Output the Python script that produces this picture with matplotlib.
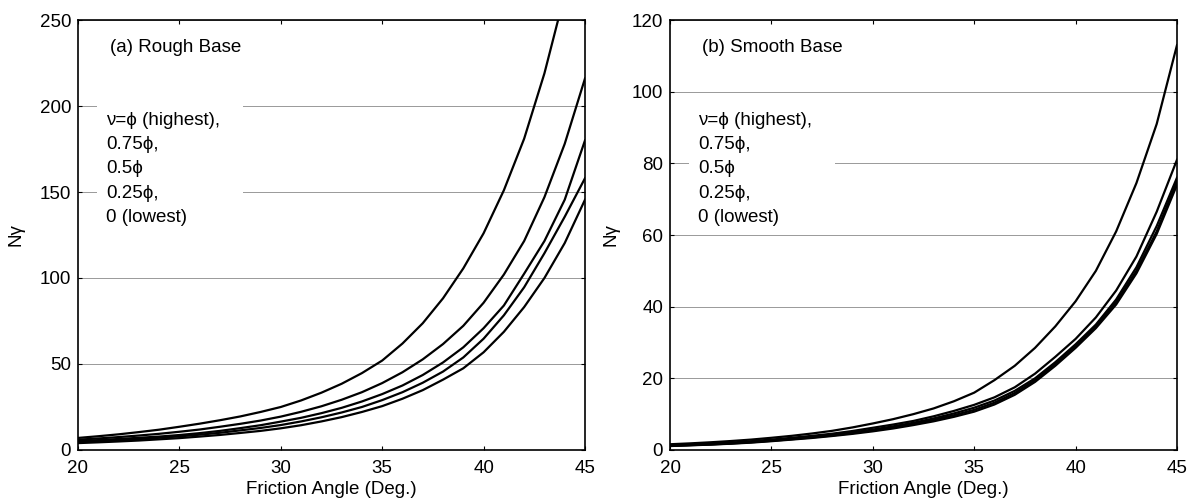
import numpy as np
import matplotlib
matplotlib.use("Agg")
import matplotlib.pyplot as plt
from matplotlib.patches import Rectangle

plt.rcParams['font.family'] = ['Liberation Sans', 'DejaVu Sans']
plt.rcParams['font.size'] = 13.5

# friction angle (deg.)
angles = list(range(20, 46))

# (a) rough base: nu = phi, 0.75phi, 0.5phi, 0.25phi, 0
rough_100 = [7.0, 8.0, 9.1, 10.4, 11.8, 13.5, 15.3, 17.3, 19.5, 22.1, 25.0, 28.8, 33.3,
             38.5, 44.7, 52.0, 61.9, 73.7, 88.2, 105.6, 126, 151, 181, 219, 265, 320]
rough_075 = [6.0, 6.7, 7.5, 8.4, 9.4, 10.6, 11.9, 13.5, 15.2, 17.1, 19.4, 22.2, 25.4,
             29.2, 33.6, 38.9, 45.2, 52.7, 61.6, 72.2, 85.6, 102, 121.5, 147, 178, 216]
rough_050 = [5.2, 5.75, 6.4, 7.1, 7.8, 8.7, 9.8, 11.1, 12.7, 14.4, 16.5, 18.7, 21.4,
             24.5, 28.2, 32.5, 37.5, 43.6, 50.9, 59.7, 70.8, 84, 102.5, 121.5, 145.5, 180]
rough_025 = [4.6, 5.1, 5.7, 6.35, 7.1, 7.9, 8.9, 10.0, 11.4, 12.8, 14.5, 16.6, 19.0,
             21.8, 25.0, 29.0, 33.6, 39.1, 45.6, 53.8, 64.7, 78.3, 94.6, 114.4, 135.6, 158]
rough_000 = [4.0, 4.45, 4.95, 5.5, 6.2, 6.9, 7.8, 8.75, 9.9, 11.1, 12.6, 14.4, 16.6,
             19.1, 22.1, 25.5, 29.8, 34.8, 40.9, 47.5, 56.8, 68.7, 83.1, 100, 120.3, 145.5]

# (b) smooth base
smooth_100 = [1.6, 1.85, 2.15, 2.5, 2.9, 3.4, 3.95, 4.6, 5.35, 6.3, 7.4, 8.6, 10.0,
              11.6, 13.6, 16.0, 19.5, 23.5, 28.5, 34.5, 41.5, 50.0, 61.0, 74.5, 91.0, 113]
smooth_075 = [1.3, 1.5, 1.75, 2.05, 2.45, 2.9, 3.4, 3.95, 4.55, 5.3, 6.2, 7.1, 8.1,
              9.4, 10.9, 12.6, 14.7, 17.5, 21.3, 26.0, 31.0, 37.0, 44.5, 54.0, 66.5, 81]
smooth_050 = [1.2, 1.4, 1.6, 1.9, 2.25, 2.65, 3.1, 3.6, 4.2, 4.9, 5.7, 6.6, 7.6,
              8.8, 10.2, 11.8, 13.8, 16.5, 20.0, 24.5, 29.5, 35.0, 42.0, 51.0, 62.5, 76]
smooth_025 = [1.15, 1.35, 1.55, 1.8, 2.15, 2.55, 3.0, 3.5, 4.05, 4.7, 5.45, 6.3, 7.25,
              8.4, 9.7, 11.2, 13.2, 15.9, 19.5, 24.0, 29.0, 34.5, 41.3, 50.0, 61.0, 75]
smooth_000 = [1.1, 1.3, 1.5, 1.75, 2.05, 2.45, 2.9, 3.35, 3.9, 4.5, 5.2, 6.0, 6.95,
              8.0, 9.25, 10.7, 12.7, 15.4, 19.0, 23.5, 28.5, 34.0, 40.6, 49.3, 60.3, 74]

legend_lines = ["ν=ϕ (highest),", "0.75ϕ,", "0.5ϕ", "0.25ϕ,", "0 (lowest)"]


def draw_panel(ax, curves, title, ymax, ystep, ylab_x):
    ax.set_axisbelow(True)
    ax.grid(True, axis="y", color="0.6", linewidth=0.7)
    # white patch behind the note text (hides the grid lines there)
    ax.add_patch(Rectangle((0.037, 0.516), 0.288, 0.30, transform=ax.transAxes,
                           facecolor="white", edgecolor="none", zorder=1))
    for c in curves:
        ax.plot(angles, c, color="black", linewidth=1.6, zorder=2)

    ax.set_xlim(20, 45)
    ax.set_ylim(0, ymax)
    ax.set_xticks(range(20, 46, 5))
    ax.set_yticks(range(0, ymax + 1, ystep))
    ax.tick_params(direction="in", top=True, right=True, length=3, width=0.8)
    ax.tick_params(axis="x", pad=7)
    ax.tick_params(axis="y", pad=5)
    for s in ax.spines.values():
        s.set_linewidth(1.2)

    ax.set_xlabel("Friction Angle (Deg.)")
    ax.xaxis.set_label_coords(0.5, -0.072)
    ax.set_ylabel("Nγ")
    ax.yaxis.set_label_coords(ylab_x, 0.5)

    ax.text(0.063, 0.935, title, transform=ax.transAxes, va="center", zorder=3)
    for i, t in enumerate(legend_lines):
        ax.text(0.055, 0.767 - i * 0.0565, t, transform=ax.transAxes,
                va="center", zorder=3)


fig = plt.figure(figsize=(11.89, 5.03), dpi=100)
ax1 = fig.add_axes([0.0656, 0.1054, 0.4264, 0.8548])
ax2 = fig.add_axes([0.5635, 0.1054, 0.4264, 0.8548])

draw_panel(ax1, [rough_100, rough_075, rough_050, rough_025, rough_000],
           "(a) Rough Base", 250, 50, -0.105)
draw_panel(ax2, [smooth_100, smooth_075, smooth_050, smooth_025, smooth_000],
           "(b) Smooth Base", 120, 20, -0.1)

fig.savefig("out.png", dpi=100)
